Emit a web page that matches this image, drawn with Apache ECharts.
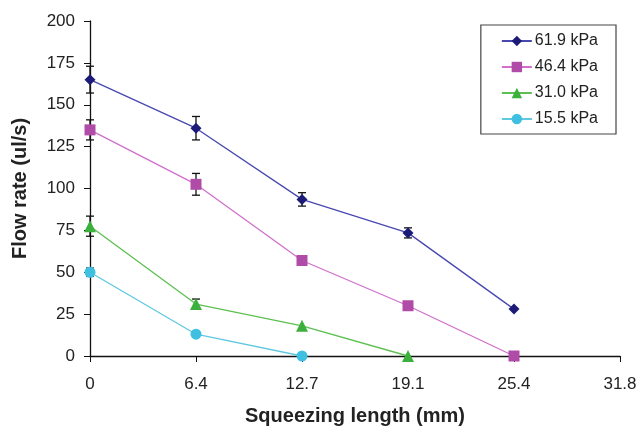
<!DOCTYPE html>
<html>
<head>
<meta charset="utf-8">
<script src="https://cdn.jsdelivr.net/npm/echarts@6/dist/echarts.min.js"></script>
<style>
  html, body { margin: 0; padding: 0; background: #fff; }
  #main { width: 641px; height: 428px; }
</style>
</head>
<body>
<div id="main"></div>
<script>
// squeezing length (mm)
var lengths = ['0', '6.4', '12.7', '19.1', '25.4', '31.8'];
var names = ['61.9 kPa', '46.4 kPa', '31.0 kPa', '15.5 kPa'];

// flow rate (ul/s)
var p619 = [165, 136, 93.5, 73.5, 28];
var p464 = [135, 102.5, 57, 30, 0];
var p310 = [77.5, 31, 18, 0];
var p155 = [50, 13, 0];

// error bar half widths
var e619 = [8, 7, 4, 3, 0];
var e464 = [6, 6.5, 2, 0, 0];
var e310 = [6, 3, 0, 0];
var e155 = [2.5, 0, 0];

var lineColors = ['#4848b0', '#d070cc', '#5cc050', '#60c8e0'];
var markColors = ['#1c1c78', '#b04ca8', '#3cb03c', '#40c0e0'];
var symbols = ['diamond', 'rect', 'triangle', 'circle'];
var symSizes = [11, 11, 12, 11];

var allVals = [p619, p464, p310, p155];
var allErr = [e619, e464, e310, e155];

var errData = [];
for (var s = 0; s < allVals.length; s++) {
    for (var i = 0; i < allVals[s].length; i++) {
        if (allErr[s][i] > 0) {
            errData.push([i, allVals[s][i] - allErr[s][i], allVals[s][i] + allErr[s][i]]);
        }
    }
}

var series = [];
for (var s = 0; s < names.length; s++) {
    series.push({
        name: names[s],
        type: 'line',
        data: allVals[s],
        symbol: symbols[s],
        symbolSize: symSizes[s],
        lineStyle: { color: lineColors[s], width: 1.3 },
        itemStyle: { color: markColors[s] },
        z: 4
    });
}

// error bars, drawn under the markers
series.push({
    type: 'custom',
    z: 3,
    data: errData,
    renderItem: function (params, api) {
        var lo = api.coord([api.value(0), api.value(1)]);
        var hi = api.coord([api.value(0), api.value(2)]);
        var cap = 4;
        var st = { stroke: '#111', lineWidth: 1.3 };
        return {
            type: 'group',
            children: [
                { type: 'line', shape: { x1: lo[0], y1: lo[1], x2: hi[0], y2: hi[1] }, style: st },
                { type: 'line', shape: { x1: lo[0] - cap, y1: lo[1], x2: lo[0] + cap, y2: lo[1] }, style: st },
                { type: 'line', shape: { x1: hi[0] - cap, y1: hi[1], x2: hi[0] + cap, y2: hi[1] }, style: st }
            ]
        };
    }
});

var myChart = echarts.init(document.getElementById('main'));
var option = {
    animation: false,
    backgroundColor: '#fff',
    textStyle: { fontFamily: 'Liberation Sans, Arial, sans-serif' },
    grid: { left: 90, right: 21, top: 21, bottom: 72, outerBoundsMode: 'none' },
    legend: {
        orient: 'vertical',
        right: 25,
        top: 25,
        data: names,
        itemWidth: 30,
        itemHeight: 13,
        itemGap: 10,
        padding: [8, 18, 7, 20],
        borderColor: '#444',
        borderWidth: 1.2,
        textStyle: { fontSize: 16, color: '#222', padding: [0, 0, 0, -2], fontFamily: 'Liberation Sans, Arial, sans-serif' }
    },
    xAxis: {
        type: 'category',
        data: lengths,
        boundaryGap: false,
        name: 'Squeezing length (mm)',
        nameLocation: 'middle',
        nameGap: 50,
        nameTextStyle: { fontSize: 20, fontWeight: 'bold', color: '#222' },
        axisLine: { lineStyle: { color: '#111', width: 1.3 } },
        axisTick: { alignWithLabel: true, length: 6, lineStyle: { color: '#111' } },
        axisLabel: { fontSize: 17, color: '#222', margin: 20 },
        splitLine: { show: false }
    },
    yAxis: {
        type: 'value',
        min: 0,
        max: 200,
        interval: 25,
        name: 'Flow rate (ul/s)',
        nameLocation: 'middle',
        nameGap: 60,
        nameTextStyle: { fontSize: 20, fontWeight: 'bold', color: '#222' },
        axisLine: { show: true, lineStyle: { color: '#111', width: 1.3 } },
        axisTick: { show: true, length: 6, lineStyle: { color: '#111' } },
        axisLabel: { fontSize: 17, color: '#222', margin: 15 },
        splitLine: { show: false }
    },
    series: series
};
myChart.setOption(option);
</script>
</body>
</html>
